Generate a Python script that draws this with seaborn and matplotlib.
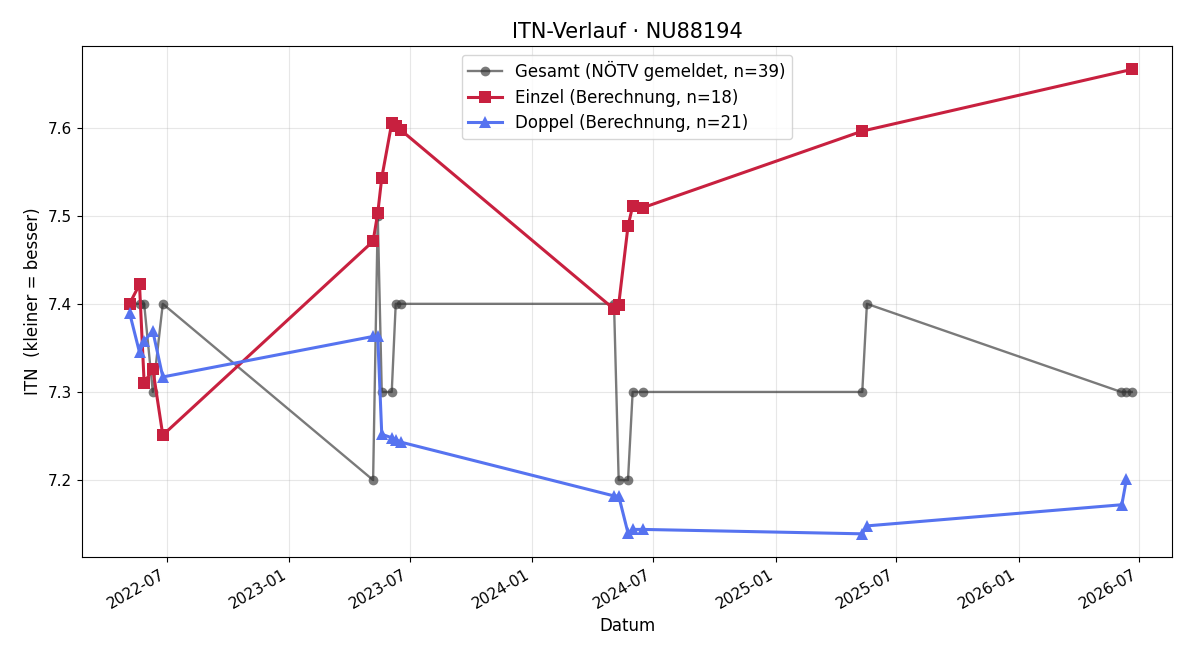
import pandas as pd
import numpy as np

import matplotlib
matplotlib.use('Agg')
import matplotlib.pyplot as plt
import matplotlib.dates as mdates
import seaborn as sns


# Gesamt (NÖTV gemeldet)
gesamt_dates = ['2022-05-06', '2022-05-21', '2022-05-28', '2022-06-10', '2022-06-25',
                '2023-05-07', '2023-05-14', '2023-05-20', '2023-06-04', '2023-06-10', '2023-06-18',
                '2024-05-03', '2024-05-10', '2024-05-24', '2024-05-31', '2024-06-15',
                '2025-05-11', '2025-05-18',
                '2026-06-04', '2026-06-11', '2026-06-20']
gesamt_itn = [7.40, 7.40, 7.40, 7.30, 7.40,
              7.20, 7.50, 7.30, 7.30, 7.40, 7.40,
              7.40, 7.20, 7.20, 7.30, 7.30,
              7.30, 7.40,
              7.30, 7.30, 7.30]

# Einzel (Berechnung)
einzel_dates = ['2022-05-06', '2022-05-21', '2022-05-28', '2022-06-10', '2022-06-25',
                '2023-05-07', '2023-05-14', '2023-05-20', '2023-06-04', '2023-06-10', '2023-06-18',
                '2024-05-03', '2024-05-10', '2024-05-24', '2024-05-31', '2024-06-15',
                '2025-05-11',
                '2026-06-20']
einzel_itn = [7.400, 7.422, 7.310, 7.326, 7.251,
              7.471, 7.503, 7.543, 7.605, 7.602, 7.597,
              7.394, 7.399, 7.488, 7.511, 7.509,
              7.596,
              7.666]

# Doppel (Berechnung)
doppel_dates = ['2022-05-06', '2022-05-21', '2022-05-28', '2022-06-10', '2022-06-25',
                '2023-05-07', '2023-05-14', '2023-05-20', '2023-06-04', '2023-06-10', '2023-06-18',
                '2024-05-03', '2024-05-10', '2024-05-24', '2024-05-31', '2024-06-15',
                '2025-05-11', '2025-05-18',
                '2026-06-05', '2026-06-12']
doppel_itn = [7.390, 7.345, 7.358, 7.369, 7.317,
              7.363, 7.363, 7.252, 7.248, 7.246, 7.243,
              7.182, 7.182, 7.140, 7.144, 7.144,
              7.139, 7.148,
              7.172, 7.201]

df_g = pd.DataFrame({'datum': pd.to_datetime(gesamt_dates), 'itn': gesamt_itn})
df_e = pd.DataFrame({'datum': pd.to_datetime(einzel_dates), 'itn': einzel_itn})
df_d = pd.DataFrame({'datum': pd.to_datetime(doppel_dates), 'itn': doppel_itn})

fig, ax = plt.subplots(figsize=(12, 6.6), dpi=100)

sns.lineplot(data=df_g, x='datum', y='itn', ax=ax, color='#333333', alpha=0.65,
             marker='o', markersize=7, markeredgewidth=0, linewidth=1.7,
             estimator=None, sort=False, label='Gesamt (NÖTV gemeldet, n=39)')
sns.lineplot(data=df_e, x='datum', y='itn', ax=ax, color='#c8203f',
             marker='s', markersize=8, markeredgewidth=0, linewidth=2.2,
             estimator=None, sort=False, label='Einzel (Berechnung, n=18)')
sns.lineplot(data=df_d, x='datum', y='itn', ax=ax, color='#5673f0',
             marker='^', markersize=8, markeredgewidth=0, linewidth=2.2,
             estimator=None, sort=False, label='Doppel (Berechnung, n=21)')

ax.set_title('ITN-Verlauf · NU88194', fontsize=15)
ax.set_xlabel('Datum', fontsize=12)
ax.set_ylabel('ITN  (kleiner = besser)', fontsize=12)
ax.tick_params(labelsize=11)
ax.grid(True, alpha=0.3)
ax.set_xlim(pd.Timestamp('2022-02-23'), pd.Timestamp('2026-08-20'))
ax.xaxis.set_major_locator(mdates.MonthLocator(bymonth=[1, 7]))
ax.xaxis.set_major_formatter(mdates.DateFormatter('%Y-%m'))
ax.legend(loc='upper center', fontsize=12, labelspacing=0.45)
fig.autofmt_xdate()

fig.subplots_adjust(left=0.068, right=0.977, top=0.930, bottom=0.156)
plt.savefig('out.png')
